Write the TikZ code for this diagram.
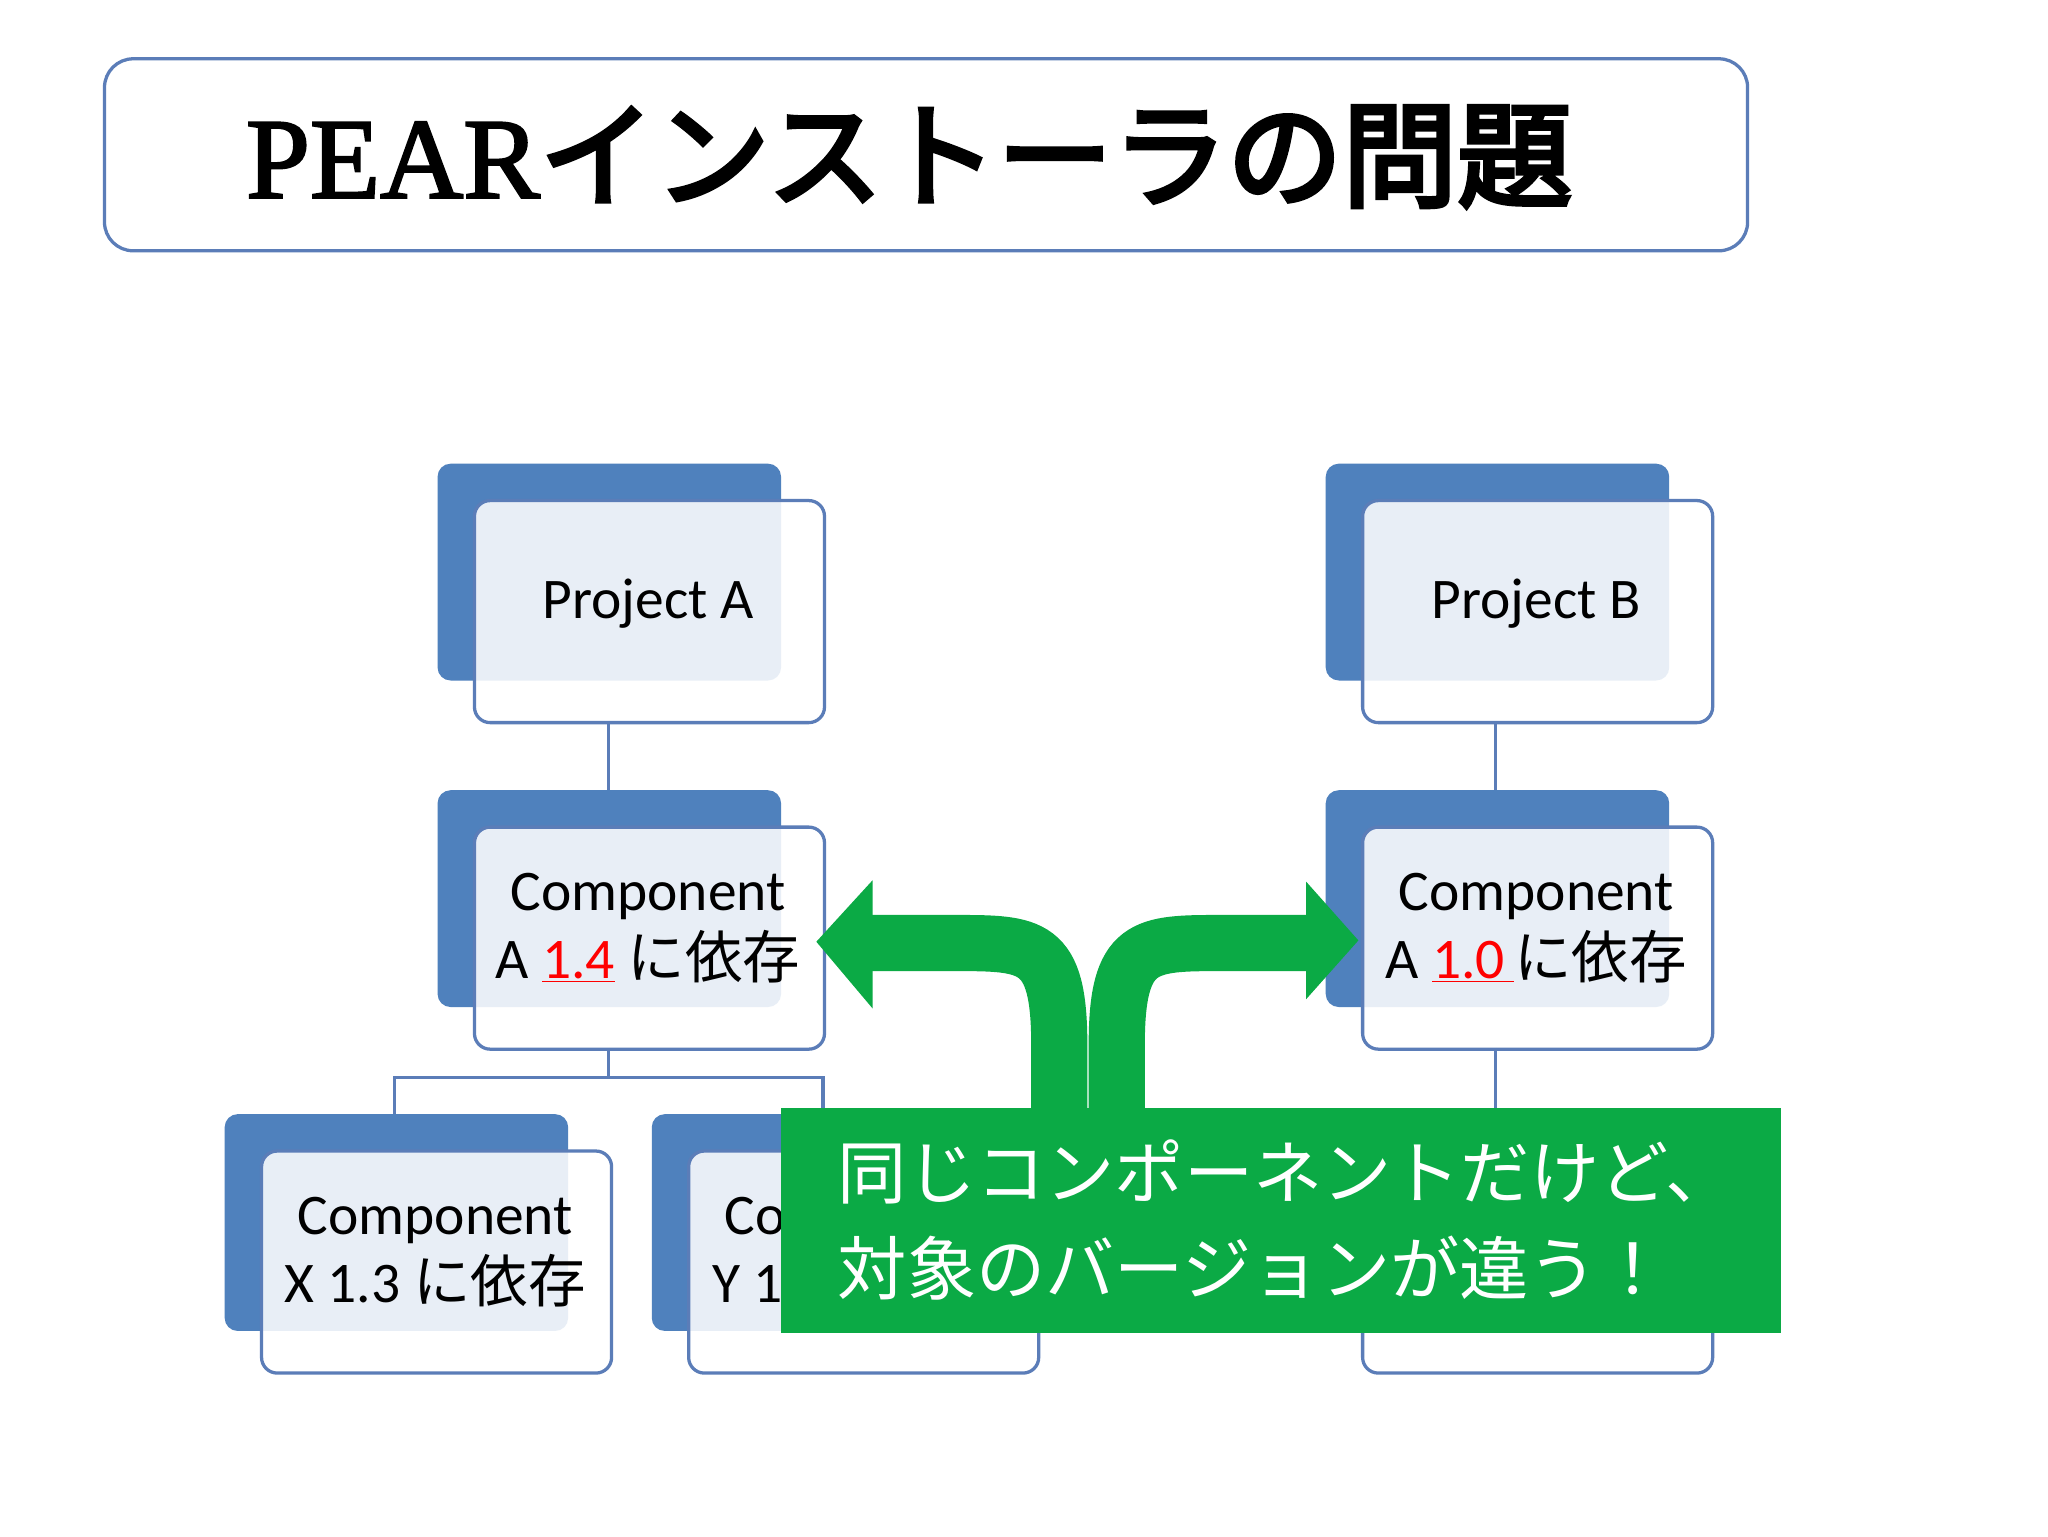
\documentclass[tikz,border=0pt]{standalone}
\usepackage{fontspec}
\setmainfont{Carlito}
\newfontfamily\cjk{Noto Sans CJK JP}
\newfontfamily\cjkb{Noto Sans CJK JP}[FakeBold=4]
\newfontfamily\serb{Liberation Serif}[AutoFakeBold=2]
\definecolor{bk}{HTML}{4F81BD}
\definecolor{bd}{HTML}{5B7DB8}
\definecolor{gr}{HTML}{0BAA45}
\begin{document}
\begin{tikzpicture}[x=1pt,y=-1pt,
  back/.style={fill=bk,rounded corners=10pt},
  front/.style={draw=bd,line width=2.5pt,fill=white,fill opacity=0.87,text opacity=1,rounded corners=12pt,align=center},
  conn/.style={draw=bd,line width=2.5pt},
  garr/.style={draw=gr,line width=43pt}]
\fill[white] (0,0) rectangle (1568,1176);
\useasboundingbox (0,0) rectangle (1568,1176);
% title
\draw[bd,line width=2.5pt,rounded corners=22pt,fill=white] (80,45) rectangle (1338,192);
\node (title) at (696,120) {\fontsize{88}{90}\selectfont\serb\textbf{PEAR}\cjkb インストーラの問題};
% connectors
\draw[conn] (466,552) -- (466,605);
\draw[conn] (466,802) -- (466,825);
\draw[conn] (302,853) -- (302,825) -- (630,825) -- (630,853);
\draw[conn] (1145,552) -- (1145,605);
\draw[conn] (1145,802) -- (1145,853);
% boxes
\newcommand\mybox[4]{%
  \fill[back] (#1,#2) rectangle ++(263,166);
  \node[front,minimum width=268pt,minimum height=170pt,anchor=north west] (#3) at (#1+27,#2+27) {};
  \node at ([xshift=-1pt,yshift=5pt]#3.center) (#3t) {\fontsize{44}{50}\selectfont\begin{tabular}{@{}c@{}}#4\end{tabular}};}
\mybox{335}{355}{pa}{Project A}
\mybox{1015}{355}{pb}{Project B}
\mybox{335}{605}{ca}{Component\\A \textcolor{red}{\underline{1.4}} {\cjk に依存}}
\mybox{1015}{605}{cb}{Component\\A \textcolor{red}{\underline{1.0\,}}{\cjk に依存}}
\mybox{172}{853}{cx}{Component\\X 1.3 {\cjk に依存}}
\mybox{499}{853}{cy}{Component\\Y 1.2 {\cjk に依存}}
\mybox{1015}{853}{cz}{}
% green callout
\node[fill=gr,minimum width=765pt,minimum height=172pt,anchor=north west,inner sep=0pt] (g) at (598,848) {};
\node[anchor=west,text=white,align=left,font=\fontsize{53}{73}\selectfont\cjk] (gt) at (638,934) {同じコンポーネントだけど、\\対象のバージョンが違う！};
% green arrows
\coordinate (l0) at (811,850); \coordinate (r0) at (855,850);
\draw[garr] (l0) -- (811,800) .. controls (811,722) and (790,722) .. (730,722) -- (666,722);
\draw[garr] (r0) -- (855,800) .. controls (855,722) and (876,722) .. (936,722) -- (1002,722);
\fill[gr] (668,674) -- (625,721) -- (668,772) -- cycle;
\fill[gr] (1000,675) -- (1040,720) -- (1000,765) -- cycle;
\end{tikzpicture}
\end{document}
